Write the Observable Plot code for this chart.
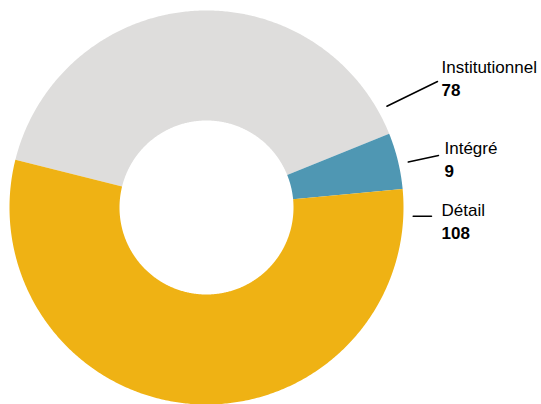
<!DOCTYPE html>
<html><head><meta charset="utf-8">
<script src="https://cdn.jsdelivr.net/npm/d3@7"></script>
<script src="https://cdn.jsdelivr.net/npm/@observablehq/plot@0.6"></script>
<style>body{margin:0;background:#fff;overflow:hidden}</style>
</head><body><div id="chart"></div>
<script>
// Data
const categories = ["Institutionnel", "Intégré", "Détail"];
const values = [78, 9, 108];
const colors = ["#dedddc", "#4f97b3", "#efb214"];

// Layout
const W = 541, H = 404, CX = 206, CY = 207, R = 197;
const innerRatio = 87 / 197;
const startDeg = -76;
const leaderAngles = [60.7, 77.3, 92.4];
const leaderR = 1.05;
const px = (x) => (x - CX) / R, py = (y) => (CY - y) / R;
const leaderEnds = [[437, 81], [438, 155], [431, 215.7]];
const textX = [441, 444, 441];
const nameBase = [72, 153, 215];
const valueBase = [95, 176, 238];

const rad = Math.PI / 180;
const pie = d3.pie().sort(null).value(d => d.value)
  .startAngle(startDeg * rad).endAngle(startDeg * rad + 2 * Math.PI);
const arcs = pie(categories.map((c, i) => ({cat: c, value: values[i]})));

const ring = [];
for (const a of arcs) {
  const n = Math.max(12, Math.ceil((a.endAngle - a.startAngle) / rad * 2));
  for (let k = 0; k <= n; k++) {
    const t = a.startAngle + (a.endAngle - a.startAngle) * k / n;
    ring.push({cat: a.data.cat, x: Math.sin(t), y: Math.cos(t)});
  }
  for (let k = n; k >= 0; k--) {
    const t = a.startAngle + (a.endAngle - a.startAngle) * k / n;
    ring.push({cat: a.data.cat, x: innerRatio * Math.sin(t), y: innerRatio * Math.cos(t)});
  }
}

const leaders = [];
categories.forEach((c, i) => {
  const t = leaderAngles[i] * rad;
  leaders.push({cat: c, x: leaderR * Math.sin(t), y: leaderR * Math.cos(t)});
  leaders.push({cat: c, x: px(leaderEnds[i][0]), y: py(leaderEnds[i][1])});
});

const labels = categories.map((c, i) => ({
  cat: c, value: values[i], x: px(textX[i]), yName: py(nameBase[i]), yValue: py(valueBase[i])
}));

const chart = Plot.plot({
  width: W, height: H,
  margin: 0,
  x: {domain: [px(0), px(W)], axis: null},
  y: {domain: [py(H), py(0)], axis: null},
  color: {domain: categories, range: colors},
  style: {fontFamily: "'Liberation Sans', Arial, sans-serif", background: "#fff"},
  marks: [
    Plot.line(ring, {x: "x", y: "y", z: "cat", fill: "cat", stroke: null, curve: "linear"}),
    Plot.line(leaders, {x: "x", y: "y", z: "cat", stroke: "#000", strokeWidth: 1.5}),
    Plot.text(labels, {x: "x", y: "yName", text: "cat", textAnchor: "start", lineAnchor: "bottom", fontSize: 17, fill: "#000"}),
    Plot.text(labels, {x: "x", y: "yValue", text: d => String(d.value), textAnchor: "start", lineAnchor: "bottom", fontSize: 17, fontWeight: "bold", fill: "#000"})
  ]
});
document.getElementById("chart").appendChild(chart);
</script>
</body></html>
